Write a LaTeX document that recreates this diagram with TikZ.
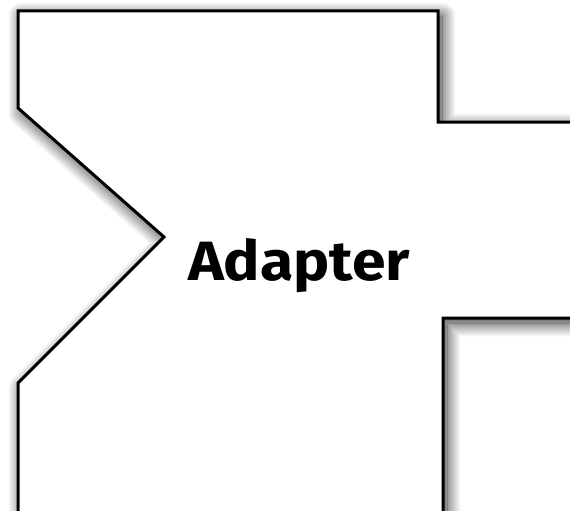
\documentclass[tikz,border=0pt]{standalone}
\usepackage{fontspec}
\newfontfamily\labelfont{Fira Sans}
\usetikzlibrary{shadows.blur}
\tikzset{
  adaptershape/.style={draw=black, line width=3pt, fill=white, line join=miter,
    blur shadow={shadow xshift=4pt, shadow yshift=-5pt, shadow blur radius=14pt, shadow opacity=85, shadow blur steps=24}},
  labeltext/.style={font=\labelfont\fontsize{60}{60}\selectfont\bfseries, inner sep=0pt, anchor=base}
}
\begin{document}
\begin{tikzpicture}[x=1pt, y=-1pt]
\useasboundingbox (0,0) rectangle (570,511);
\clip (0,0) rectangle (570,511);
\path[adaptershape] (18,11) -- (438,11) -- (438,122) -- (620,122) -- (620,318) -- (443,318) -- (443,560) -- (18,560) -- (18,383) -- (164,237) -- (18,108) -- cycle;
\node[labeltext] (label) at (299,280) {\resizebox{222pt}{42pt}{\vphantom{A}Adapter}};
\end{tikzpicture}
\end{document}
